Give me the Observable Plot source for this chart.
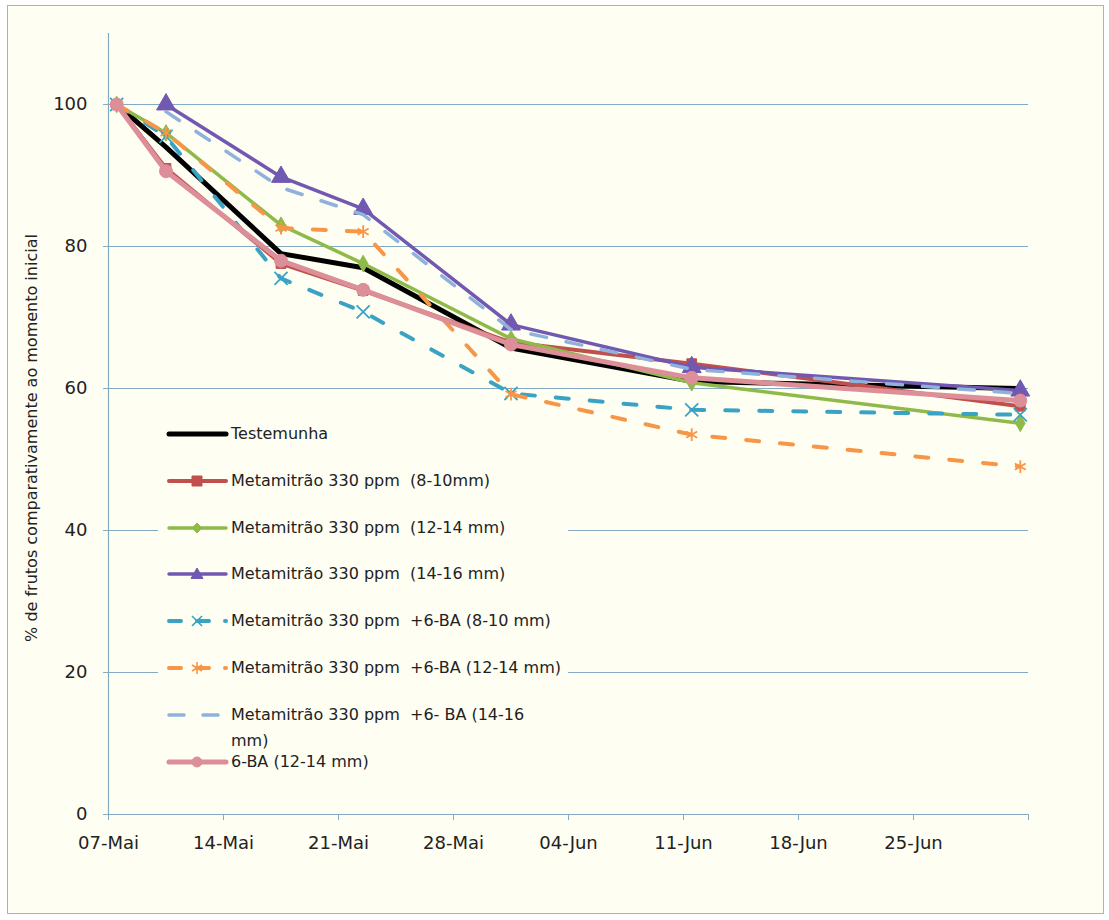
<!DOCTYPE html>
<html>
<head>
<meta charset="utf-8">
<script src="https://cdn.jsdelivr.net/npm/d3@7"></script>
<script src="https://cdn.jsdelivr.net/npm/@observablehq/plot@0.6"></script>
<style>
  body { margin: 0; background: #ffffff; }
  #wrap { position: relative; width: 1109px; height: 920px; background: #ffffff; font-family: "DejaVu Sans", sans-serif; color: #222; }
  #frame { position: absolute; left: 7px; top: 5px; width: 1095px; height: 907px; border: 1.5px solid #9fb4c6; background: #fefef3; }
  #chart { position: absolute; left: 0; top: 0; }
  #ytitle { position: absolute; left: 31px; top: 438px; transform: translate(-50%, -50%) rotate(-90deg); white-space: nowrap; font-size: 16px; }
  #legend { position: absolute; left: 158px; top: 408px; width: 410px; height: 384px; background: #fefef3; }
  .row { position: absolute; left: 0; height: 22px; font-size: 16px; white-space: pre; }
  .row svg { position: absolute; left: 8px; top: 0; }
  .row span { position: absolute; left: 73px; line-height: 26px; }
</style>
</head>
<body>
<div id="wrap">
  <div id="frame"></div>
  <div id="chart"></div>
  <div id="ytitle">% de frutos comparativamente ao momento inicial</div>
  <div id="legend"></div>
</div>
<script>
// ---- data ----
const dates = ["2011-05-07", "2011-05-10", "2011-05-17", "2011-05-22", "2011-05-31", "2011-06-11", "2011-07-01"];
const seriesNames = [
  "Testemunha",
  "Metamitrão 330 ppm  (8-10mm)",
  "Metamitrão 330 ppm  (12-14 mm)",
  "Metamitrão 330 ppm  (14-16 mm)",
  "Metamitrão 330 ppm  +6-BA (8-10 mm)",
  "Metamitrão 330 ppm  +6-BA (12-14 mm)",
  "Metamitrão 330 ppm  +6- BA (14-16\nmm)",
  "6-BA (12-14 mm)"
];
const testemunha = [100, 94, 79, 77, 65.7, 61, 60];
const met810     = [100, 91, 77.6, 73.8, 66.5, 63.5, 57.5];
const met1214    = [100, 96, 83, 77.6, 67, 60.8, 55.1];
const met1416    = [null, 100, 89.8, 85.3, 69, 63, 59.7];
const metBA810   = [100, 95.5, 75.5, 70.8, 59.3, 57, 56.3];
const metBA1214  = [100, 96, 82.6, 82.1, 59.2, 53.5, 49];
const metBA1416  = [null, 99, 88.3, 84.5, 68.3, 62.7, 59.3];
const ba1214     = [100, 90.6, 78, 73.9, 66.2, 61.5, 58.3];
const seriesValues = [testemunha, met810, met1214, met1416, metBA810, metBA1214, metBA1416, ba1214];

const yTicks = [0, 20, 40, 60, 80, 100];
const gridValues = [20, 40, 60, 80, 100];
const xTickDates = ["2011-05-07", "2011-05-14", "2011-05-21", "2011-05-28", "2011-06-04", "2011-06-11", "2011-06-18", "2011-06-25", "2011-07-02"];
const xTickLabels = ["07-Mai", "14-Mai", "21-Mai", "28-Mai", "04-Jun", "11-Jun", "18-Jun", "25-Jun", ""];

// ---- styles ----
const styles = [
  {color: "#000000", width: 5,   dash: null,    symbol: null,       r: 0},
  {color: "#c0504d", width: 4,   dash: null,    symbol: "square",   r: 5.5},
  {color: "#8fba4a", width: 3.5, dash: null,    symbol: "diamond",  r: 5},
  {color: "#7158b0", width: 3.5, dash: null,    symbol: "triangle", r: 7},
  {color: "#3aa3c4", width: 4,   dash: "13,21", symbol: "times",    r: 6},
  {color: "#f79646", width: 4,   dash: "13,21", symbol: "asterisk", r: 6},
  {color: "#8fb2dc", width: 3.5, dash: "16,20", symbol: null,       r: 0},
  {color: "#dc8f98", width: 5,   dash: null,    symbol: "circle",   r: 6.5}
];
const gridColor = "#84aac4";
const font = "'DejaVu Sans', sans-serif";

const parse = s => new Date(s + "T00:00:00Z");
const mid = s => new Date(s + "T12:00:00Z");   // Excel date axis centres points within the day

const rows = seriesNames.flatMap((name, s) =>
  dates.map((d, i) => ({series: s, date: mid(d), v: seriesValues[s][i]})).filter(r => r.v != null));

const labelMap = new Map(xTickDates.map((d, i) => [+parse(d), xTickLabels[i]]));

const marks = [
  Plot.ruleY(gridValues, {stroke: gridColor, strokeWidth: 1.2}),
  Plot.ruleY([0], {stroke: gridColor, strokeWidth: 1.2}),
  Plot.ruleX([parse(xTickDates[0])], {y1: 0, y2: 110, stroke: gridColor, strokeWidth: 1.2}),
  Plot.axisY({ticks: yTicks, tickSize: 5, tickPadding: 16, label: null, stroke: gridColor, fontSize: 18, fill: "#222"}),
  Plot.axisX({ticks: xTickDates.map(parse), tickSize: 6, tickPadding: 16, label: null, stroke: gridColor,
              tickFormat: d => labelMap.get(+d) ?? "", fontSize: 18, fill: "#222"})
];
styles.forEach((st, s) => {
  const data = rows.filter(r => r.series === s);
  marks.push(Plot.line(data, {x: "date", y: "v", stroke: st.color, strokeWidth: st.width,
    strokeDasharray: st.dash ?? undefined, strokeLinecap: "round", strokeLinejoin: "round"}));
  if (st.symbol) {
    const lineSym = st.symbol === "times" || st.symbol === "asterisk";
    marks.push(Plot.dot(data, {x: "date", y: "v", symbol: st.symbol, r: st.r,
      fill: lineSym ? "none" : st.color, stroke: st.color, strokeWidth: lineSym ? 1.8 : 1}));
  }
});

const chart = Plot.plot({
  width: 1109, height: 920,
  marginLeft: 108, marginRight: 81, marginTop: 33, marginBottom: 106,
  x: {type: "utc", domain: [parse(xTickDates[0]), parse(xTickDates[xTickDates.length - 1])]},
  y: {domain: [0, 110]},
  style: {background: "transparent", fontFamily: font, fontSize: "18px", color: "#222"},
  marks
});
document.getElementById("chart").appendChild(chart);

// ---- legend ----
const legend = document.getElementById("legend");
const rowTops = [15, 62, 109, 155, 202, 249, 296, 343];
const symPath = {
  square: "M-5,-5h10v10h-10z",
  diamond: "M0,-5L5,0L0,5L-5,0z",
  triangle: "M0,-6L6,4.5H-6z",
  times: "M-5,-5L5,5M5,-5L-5,5",
  asterisk: "M0,-6V6M-5,-3L5,3M5,-3L-5,3",
  circle: "M-5,0a5,5 0 1,0 10,0a5,5 0 1,0 -10,0"
};
seriesNames.forEach((name, s) => {
  const st = styles[s];
  const row = document.createElement("div");
  row.className = "row";
  row.style.top = rowTops[s] + "px";
  let sym = "";
  if (st.symbol) {
    const ls = st.symbol === "times" || st.symbol === "asterisk";
    sym = `<path transform="translate(31,11)" d="${symPath[st.symbol]}" fill="${ls ? "none" : st.color}" stroke="${st.color}" stroke-width="${ls ? 1.6 : 1}"/>`;
  }
  const dash = st.dash ? `stroke-dasharray="${st.dash === "16,20" ? "15,19" : "12,16"}"` : "";
  row.innerHTML = `<svg width="64" height="22"><line x1="3" x2="60" y1="11" y2="11" stroke="${st.color}" stroke-width="${st.width}" stroke-linecap="round" ${dash}/>${sym}</svg><span>${name.replace("\n", "<br>")}</span>`;
  row.querySelector("span").style.top = "-2px";
  legend.appendChild(row);
});
</script>
</body>
</html>
